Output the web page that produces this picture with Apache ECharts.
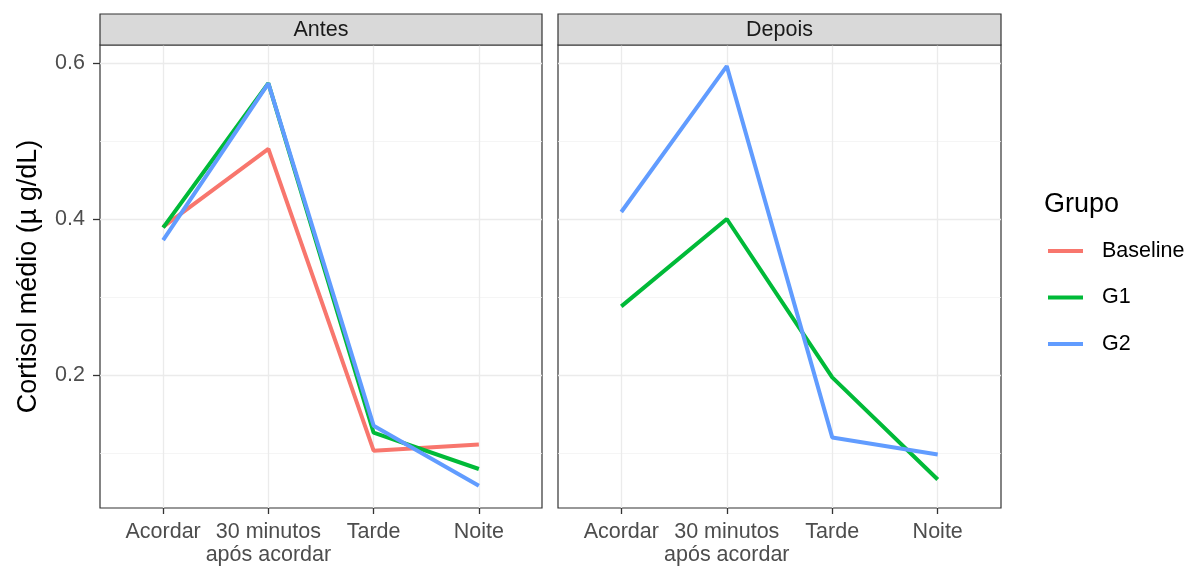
<!DOCTYPE html>
<html>
<head>
<meta charset="utf-8">
<script src="https://cdn.jsdelivr.net/npm/echarts@6/dist/echarts.min.js"></script>
<style>
html,body{margin:0;padding:0;background:#fff;}
#c{width:1189px;height:567px;}
</style>
</head>
<body>
<div id="c"></div>
<script>
const categories = ["Acordar", "30 minutos\napós acordar", "Tarde", "Noite"];
const panels = ["Antes", "Depois"];
const groups = ["Baseline", "G1", "G2"];
const colors = ["#F8766D", "#00BA38", "#619CFF"];
const yTicks = [0.2, 0.4, 0.6];
const yMinor = [0.1, 0.3, 0.5];

// Antes
const antesBaseline = [0.390, 0.490, 0.103, 0.111];
const antesG1 = [0.389, 0.574, 0.126, 0.0795];
const antesG2 = [0.373, 0.574, 0.135, 0.058];
// Depois
const depoisG1 = [0.288, 0.400, 0.197, 0.066];
const depoisG2 = [0.409, 0.596, 0.120, 0.098];

const panelData = [
  {Baseline: antesBaseline, G1: antesG1, G2: antesG2},
  {G1: depoisG1, G2: depoisG2}
];

const yMin = 0.0295, yMax = 0.6231;
const gridBox = [
  {left: 100, top: 45, width: 442, height: 463},
  {left: 558, top: 45, width: 443, height: 463}
];
const fontFam = "Liberation Sans, Arial, sans-serif";
const smallFont = 21.5;
const bigFont = 27;

const chart = echarts.init(document.getElementById('c'), null, {renderer: 'canvas'});

const grid = gridBox.map(g => Object.assign({show: true, borderColor: '#333333', borderWidth: 1.2, backgroundColor: '#fff'}, g));

const xAxis = gridBox.map((g, i) => ({
  type: 'value', gridIndex: i, min: 0.4, max: 4.6,
  axisLine: {show: false},
  axisTick: {show: true, length: 6, lineStyle: {color: '#333333', width: 1.3}, customValues: [1, 2, 3, 4]},
  axisLabel: {show: true, customValues: [1, 2, 3, 4], color: '#4D4D4D', fontSize: smallFont, fontFamily: fontFam, margin: 13, lineHeight: 23,
    formatter: v => categories[Math.round(v) - 1]},
  splitLine: {show: true, lineStyle: {color: '#EBEBEB', width: 1.3}},
  minorSplitLine: {show: false}
}));

const yAxis = [];
gridBox.forEach((g, i) => {
  yAxis.push({
    type: 'value', gridIndex: i, min: yMin, max: yMax,
    name: i === 0 ? 'Cortisol médio (µ g/dL)' : '',
    nameLocation: 'middle', nameGap: 58, nameRotate: 90,
    nameTextStyle: {fontSize: bigFont, color: '#000', fontFamily: fontFam},
    axisLine: {show: false},
    axisTick: {show: i === 0, length: 7, lineStyle: {color: '#333333', width: 1.3}, customValues: yTicks},
    axisLabel: {show: i === 0, customValues: yTicks, color: '#4D4D4D', fontSize: smallFont, fontFamily: fontFam, margin: 15,
      formatter: v => v.toFixed(1)},
    splitLine: {show: true, lineStyle: {color: '#EBEBEB', width: 1.3}}
  });
});
gridBox.forEach((g, i) => {
  yAxis.push({
    type: 'value', gridIndex: i, min: yMin, max: yMax,
    axisLine: {show: false},
    axisTick: {show: false, customValues: yMinor},
    axisLabel: {show: false, customValues: yMinor},
    splitLine: {show: true, lineStyle: {color: '#F2F2F2', width: 0.8}}
  });
});

const series = [];
panelData.forEach((pd, pi) => {
  groups.forEach((gname, gi) => {
    if (!pd[gname]) return;
    series.push({
      name: gname, type: 'line', xAxisIndex: pi, yAxisIndex: pi,
      data: pd[gname].map((v, k) => [k + 1, v]),
      showSymbol: false, symbol: 'none', silent: true,
      lineStyle: {color: colors[gi], width: 4},
      itemStyle: {color: colors[gi]},
      z: 3 + gi
    });
  });
});

const graphic = [];
gridBox.forEach((g, i) => {
  graphic.push({
    type: 'rect', shape: {x: g.left, y: 14, width: g.width, height: 31},
    style: {fill: '#D9D9D9', stroke: '#333333', lineWidth: 1.2}, z: 10
  });
  graphic.push({
    type: 'text', x: g.left + g.width / 2, y: 30,
    style: {text: panels[i], fill: '#1A1A1A', font: smallFont + 'px ' + fontFam, textAlign: 'center', textVerticalAlign: 'middle'}, z: 11
  });
});

chart.setOption({
  backgroundColor: '#fff',
  animation: false,
  grid, xAxis, yAxis, series, graphic,
  title: {text: 'Grupo', left: 1044, top: 191, padding: 0, textStyle: {fontSize: bigFont, fontWeight: 'normal', color: '#000', fontFamily: fontFam}},
  legend: {
    orient: 'vertical', left: 1048, top: 240, padding: 0, itemWidth: 35, itemHeight: 4, itemGap: 24.5,
    icon: 'rect', data: groups,
    textStyle: {fontSize: smallFont, lineHeight: 22, color: '#000', fontFamily: fontFam, padding: [0, 0, 0, 14]}
  }
});
</script>
</body>
</html>
